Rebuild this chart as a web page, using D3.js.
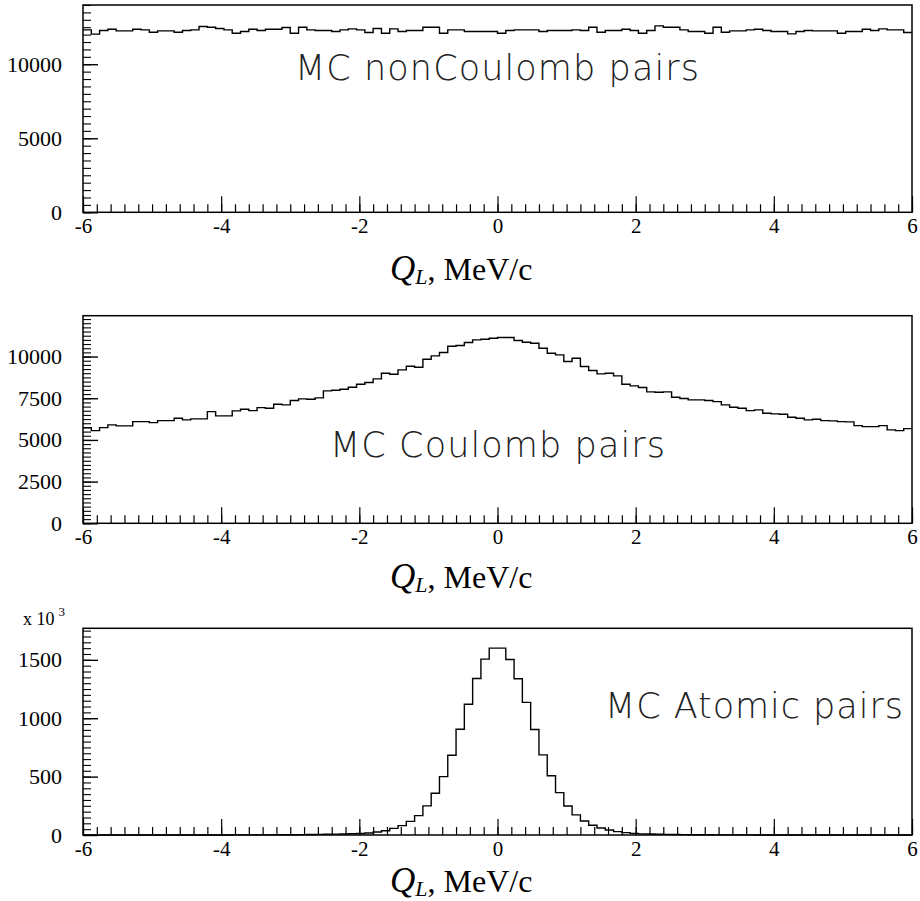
<!DOCTYPE html>
<html><head><meta charset="utf-8">
<script src="https://cdn.jsdelivr.net/npm/d3@7"></script>
<style>body{margin:0;background:#fff}svg{display:block}</style>
</head><body>
<svg id="c" width="920" height="901"></svg>
<script>
// ---- Data ----
const xDomain = [-6, 6];
const binWidth = 0.12;
const xTickLabels = [-6, -4, -2, 0, 2, 4, 6];
const panelLabels = ["MC nonCoulomb pairs", "MC Coulomb pairs", "MC Atomic pairs"];
const yTicksNonCoulomb = [0, 5000, 10000];
const yTicksCoulomb = [0, 2500, 5000, 7500, 10000];
const yTicksAtomic = [0, 500, 1000, 1500];

const nonCoulombCounts = [
 12320,12030,12275,12365,12250,12250,12365,12320,12160,12250,
 12250,12160,12275,12320,12545,12500,12410,12320,12095,12210,
 12365,12275,12365,12365,12480,12095,12500,12320,12275,12275,
 12210,12320,12390,12320,12140,12410,12095,12390,12210,12275,
 12275,12500,12500,12095,12320,12320,12210,12210,12210,12210,
 12095,12275,12320,12320,12320,12210,12275,12275,12275,12320,
 12275,12500,12160,12275,12275,12365,12275,12095,12275,12590,
 12500,12500,12320,12210,12210,12095,12500,12160,12250,12250,
 12320,12365,12275,12210,12210,12050,12210,12275,12250,12250,
 12250,12095,12210,12210,12365,12275,12390,12320,12320,12140
];
const coulombCounts = [
 5740,5560,5740,5900,5840,5840,6100,6100,6040,6160,
 6160,6300,6200,6260,6260,6700,6440,6440,6740,6840,
 6760,6940,6900,7140,7100,7360,7460,7440,7520,7940,
 7980,8040,8160,8340,8440,8660,9000,8940,9200,9420,
 9360,9840,10040,10240,10620,10660,10840,11000,11040,11100,
 11140,11140,10960,10860,10800,10500,10200,10100,9700,9900,
 9400,9160,8960,9000,8840,8340,8240,8140,7880,7860,
 7880,7560,7480,7400,7400,7360,7300,7100,6960,6900,
 6760,6800,6600,6560,6540,6360,6300,6200,6240,6160,
 6140,6100,6080,5860,5800,5800,5860,5600,5560,5680
];
// in units of 10^3
const atomicCounts = [
 0,0,0,0,0,0,0,0,0,0,
 0,0,0,0,0,0.5,0.5,0.6,0.7,0.8,
 1,1.2,1.5,1.8,2.2,2.7,3.3,4,5,6,
 7.5,9,11,13,17,26,37,57,80,117,
 166,249,357,500,683,906,1120,1340,1506,1600,
 1600,1503,1338,1136,903,686,507,363,248,172,
 120,83,60,43,29,20,14,10,8,6.5,
 5,4,3.3,2.7,2.2,1.8,1.5,1.2,1,0.8,
 0.7,0.6,0.5,0.5,0,0,0,0,0,0,
 0,0,0,0,0,0,0,0,0,0
];

// ---- Layout ----
const svg = d3.select("#c");
const left = 83, right = 912;
const x = d3.scaleLinear().domain(xDomain).range([left, right]);
const serif = "'Liberation Serif','Times New Roman',serif";

const panels = [
  {values: nonCoulombCounts, ymax: 14000, major: yTicksNonCoulomb, minorStep: 500, top: 5, bottom: 212.3,
   label: panelLabels[0], lx: 295, ly: 80, lw: 404, titleY: 280},
  {values: coulombCounts, ymax: 12450, major: yTicksCoulomb, minorStep: 250, top: 315.7, bottom: 523.3,
   label: panelLabels[1], lx: 330, ly: 457, lw: 335, titleY: 588},
  {values: atomicCounts, ymax: 1770, major: yTicksAtomic, minorStep: 50, top: 628.3, bottom: 835,
   label: panelLabels[2], lx: 605, ly: 718, lw: 298, titleY: 892}
];

const xMinor = d3.range(-6, 6.0001, 0.2).map(v => +v.toFixed(2));

panels.forEach((p, pi) => {
  const y = d3.scaleLinear().domain([0, p.ymax]).range([p.bottom, p.top]);
  const g = svg.append("g");

  // x axis minor ticks
  g.append("g").attr("transform", `translate(0,${p.bottom})`)
    .call(d3.axisBottom(x).tickValues(xMinor).tickSizeInner(-8).tickSizeOuter(0).tickFormat(""))
    .call(s => { s.select(".domain").remove(); s.selectAll("line").attr("stroke", "#000").attr("stroke-width", 1.2); });
  // x axis major ticks + labels
  g.append("g").attr("transform", `translate(0,${p.bottom})`)
    .call(d3.axisBottom(x).tickValues(xTickLabels).tickSizeInner(-16).tickSizeOuter(0).tickPadding(6)
      .tickFormat(d => d < 0 ? "-" + Math.abs(d) : String(d)))
    .call(s => {
      s.select(".domain").remove();
      s.selectAll("line").attr("stroke", "#000").attr("stroke-width", 1.2);
      s.selectAll("text").attr("font-family", serif).attr("font-size", 21).attr("fill", "#000");
    });

  // y axis minor
  const yMinor = d3.range(0, p.ymax + 1e-9, p.minorStep);
  g.append("g").attr("transform", `translate(${left},0)`)
    .call(d3.axisLeft(y).tickValues(yMinor).tickSizeInner(-8).tickSizeOuter(0).tickFormat(""))
    .call(s => { s.select(".domain").remove(); s.selectAll("line").attr("stroke", "#000").attr("stroke-width", 1.1); });
  // y axis major
  g.append("g").attr("transform", `translate(${left},0)`)
    .call(d3.axisLeft(y).tickValues(p.major).tickSizeInner(-15).tickSizeOuter(0).tickPadding(21).tickFormat(d3.format("d")))
    .call(s => {
      s.select(".domain").remove();
      s.selectAll("line").attr("stroke", "#000").attr("stroke-width", 1.4);
      s.selectAll("text").attr("font-family", serif).attr("font-size", 22).attr("fill", "#000");
    });

  // histogram
  const pts = p.values.map((v, i) => [xDomain[0] + i * binWidth, v]);
  pts.push([xDomain[1], p.values[p.values.length - 1]]);
  const line = d3.line().x(d => x(d[0])).y(d => y(d[1])).curve(d3.curveStepAfter);
  g.append("path").attr("d", line(pts)).attr("fill", "none").attr("stroke", "#000").attr("stroke-width", 1.4);

  // frame
  g.append("rect").attr("x", left).attr("y", p.top).attr("width", right - left).attr("height", p.bottom - p.top)
    .attr("fill", "none").attr("stroke", "#000").attr("stroke-width", 1.5);

  // annotation
  g.append("text").attr("x", p.lx).attr("y", p.ly).text(p.label)
    .attr("font-family", "'DejaVu Sans ExtraLight','DejaVu Sans','Open Sans',sans-serif").attr("font-weight", 200)
    .attr("font-size", 35).attr("fill", "#222")
    .attr("textLength", p.lw).attr("lengthAdjust", "spacing");

  // axis title
  const t = g.append("text").attr("x", 390).attr("y", p.titleY).attr("font-family", serif).attr("fill", "#000");
  t.append("tspan").attr("font-style", "italic").attr("font-size", 35).text("Q");
  t.append("tspan").attr("font-style", "italic").attr("font-size", 22).attr("dy", 4).text("L");
  t.append("tspan").attr("font-size", 32).attr("dy", -4).text(", MeV/c");
});

// x 10^3 multiplier
const m = svg.append("text").attr("x", 23).attr("y", 625).attr("font-family", serif).attr("fill", "#000");
m.append("tspan").attr("font-size", 18).text("x 10");
m.append("tspan").attr("font-size", 13).attr("dx", 4).attr("dy", -9).text("3");
</script>
</body></html>
